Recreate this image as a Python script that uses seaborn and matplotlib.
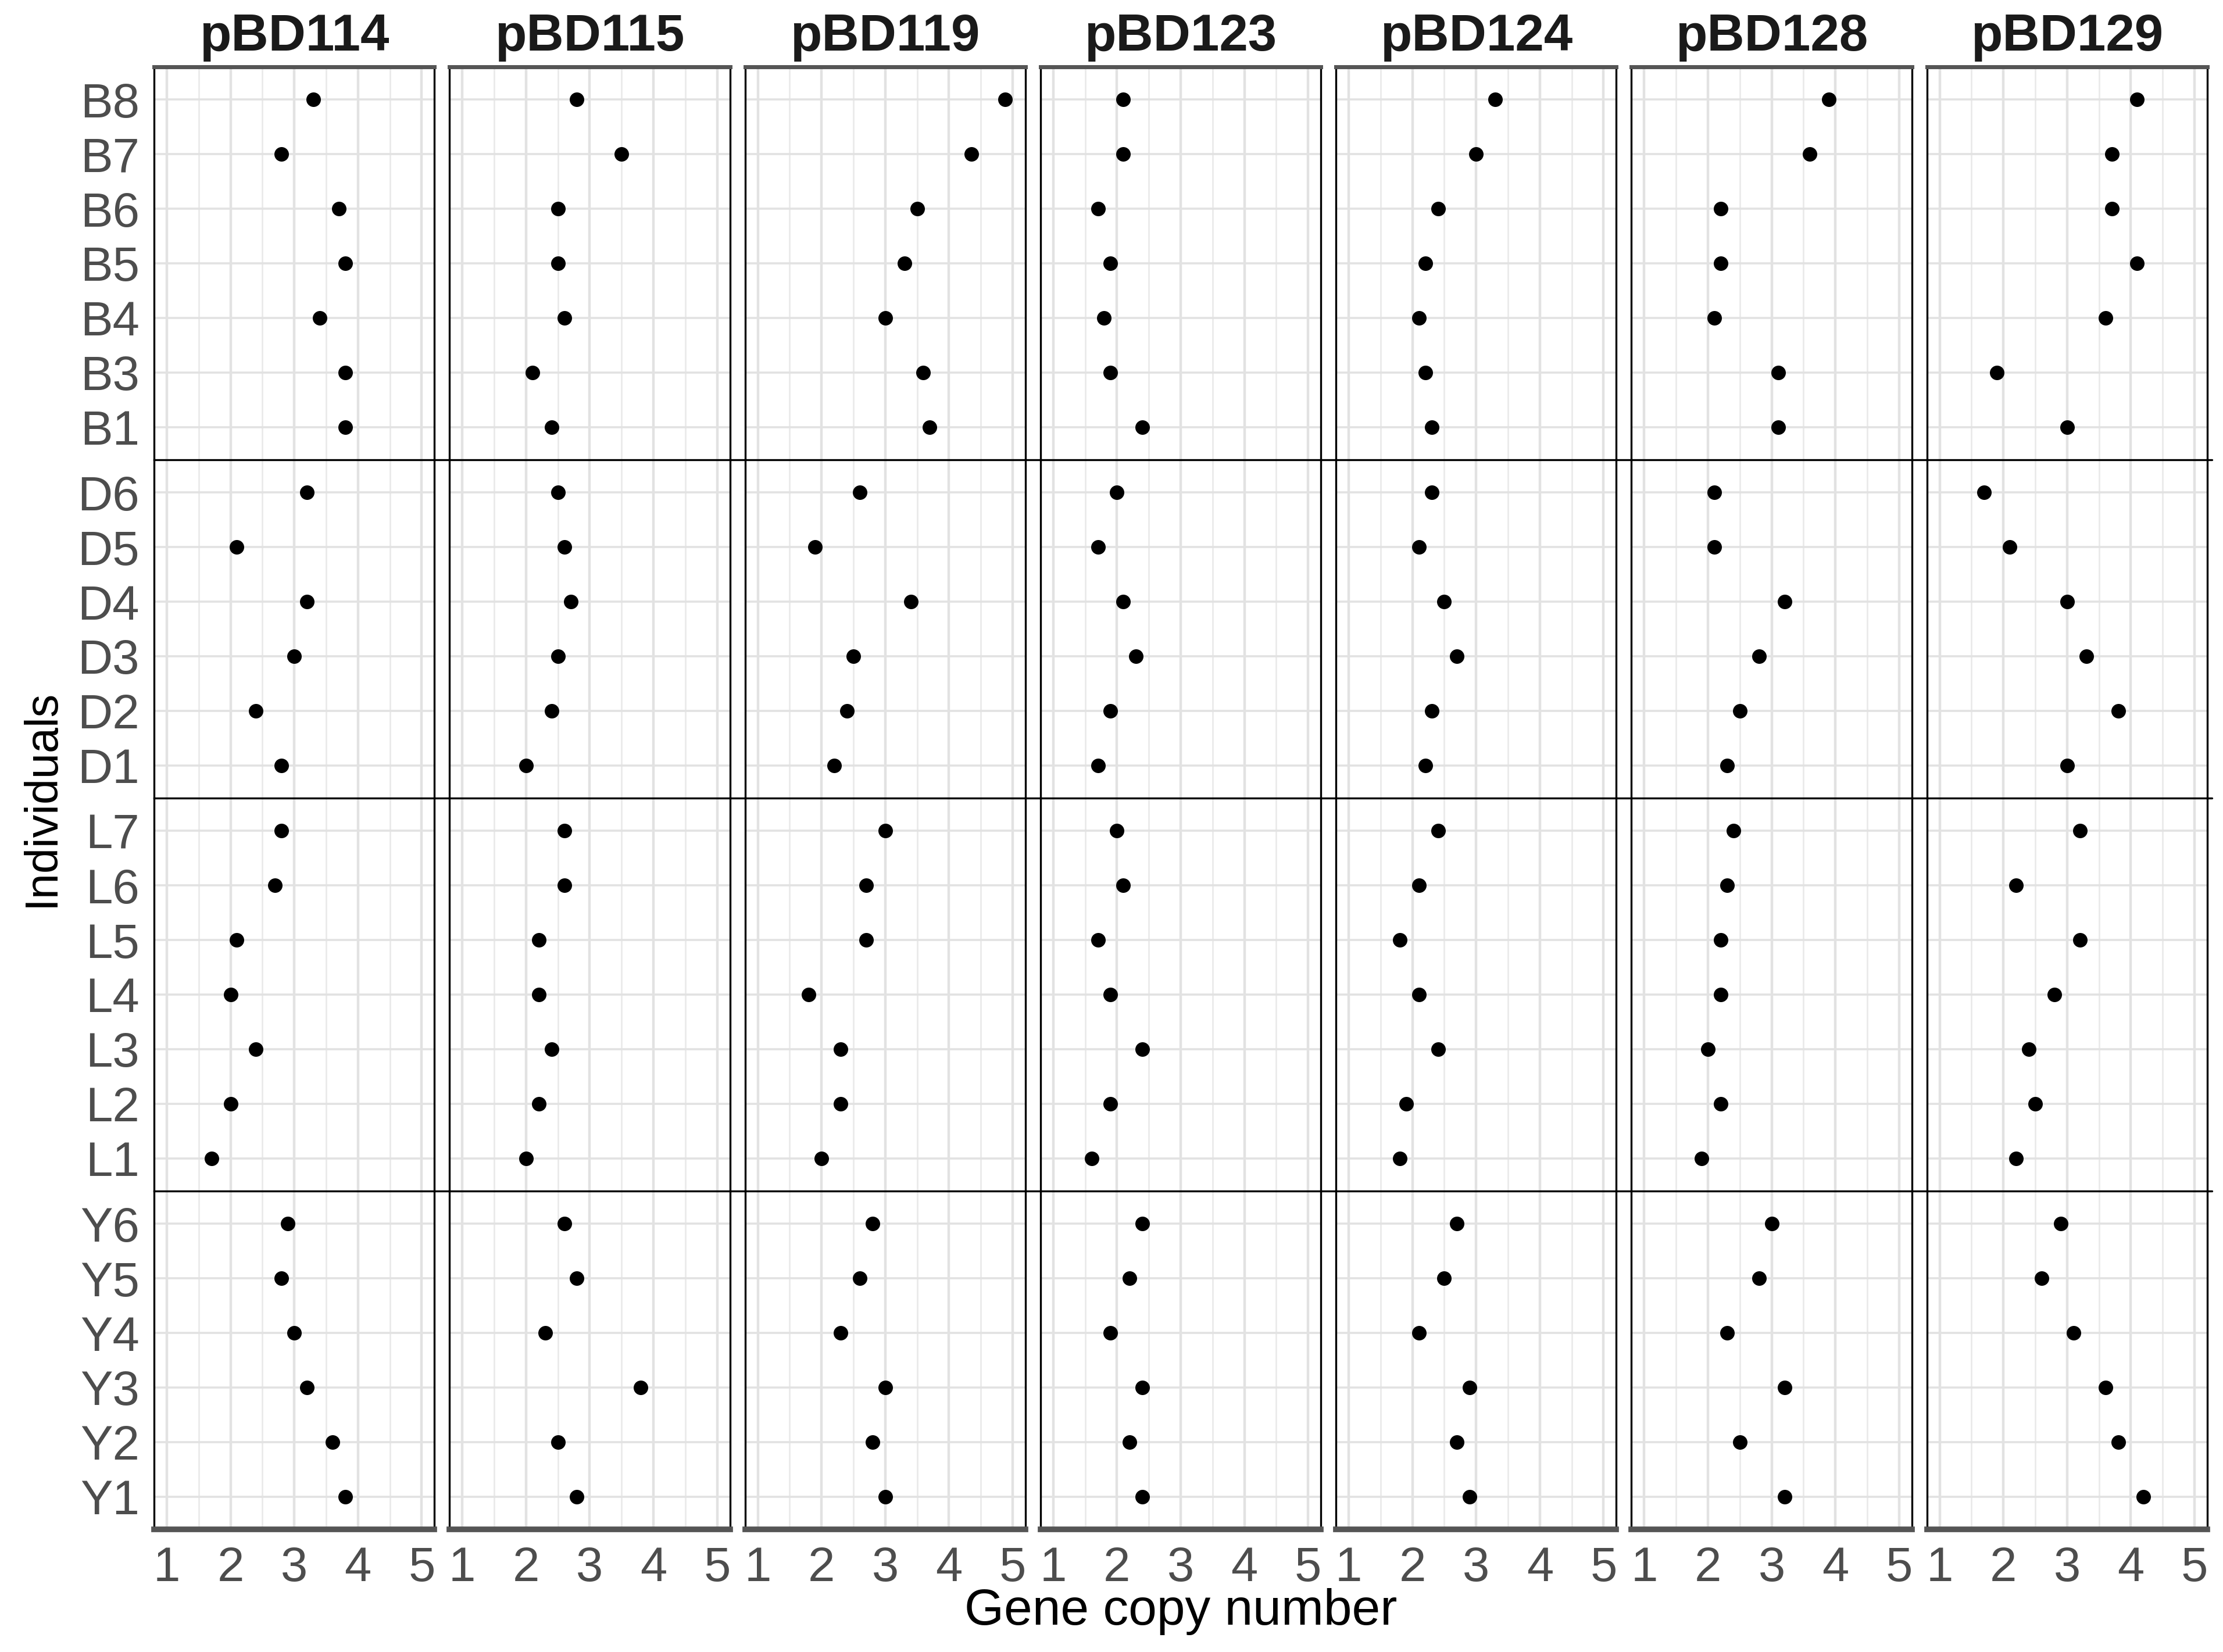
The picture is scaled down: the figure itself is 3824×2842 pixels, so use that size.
import matplotlib
matplotlib.use("Agg")
import matplotlib.pyplot as plt
import seaborn as sns
import pandas as pd
from matplotlib.ticker import MultipleLocator, FixedLocator
from matplotlib.lines import Line2D

# ---------------- data ----------------
genes = ["pBD114", "pBD115", "pBD119", "pBD123", "pBD124", "pBD128", "pBD129"]
groups = ["B", "D", "L", "Y"]
ind_B = ["B8", "B7", "B6", "B5", "B4", "B3", "B1"]
ind_D = ["D6", "D5", "D4", "D3", "D2", "D1"]
ind_L = ["L7", "L6", "L5", "L4", "L3", "L2", "L1"]
ind_Y = ["Y6", "Y5", "Y4", "Y3", "Y2", "Y1"]
x_ticks = [1, 2, 3, 4, 5]

# values in order: B8..B1, D6..D1, L7..L1, Y6..Y1
pBD114 = [3.3, 2.8, 3.7, 3.8, 3.4, 3.8, 3.8,
          3.2, 2.1, 3.2, 3.0, 2.4, 2.8,
          2.8, 2.7, 2.1, 2.0, 2.4, 2.0, 1.7,
          2.9, 2.8, 3.0, 3.2, 3.6, 3.8]
pBD115 = [2.8, 3.5, 2.5, 2.5, 2.6, 2.1, 2.4,
          2.5, 2.6, 2.7, 2.5, 2.4, 2.0,
          2.6, 2.6, 2.2, 2.2, 2.4, 2.2, 2.0,
          2.6, 2.8, 2.3, 3.8, 2.5, 2.8]
pBD119 = [4.88, 4.35, 3.5, 3.3, 3.0, 3.6, 3.7,
          2.6, 1.9, 3.4, 2.5, 2.4, 2.2,
          3.0, 2.7, 2.7, 1.8, 2.3, 2.3, 2.0,
          2.8, 2.6, 2.3, 3.0, 2.8, 3.0]
pBD123 = [2.1, 2.1, 1.7, 1.9, 1.8, 1.9, 2.4,
          2.0, 1.7, 2.1, 2.3, 1.9, 1.7,
          2.0, 2.1, 1.7, 1.9, 2.4, 1.9, 1.6,
          2.4, 2.2, 1.9, 2.4, 2.2, 2.4]
pBD124 = [3.3, 3.0, 2.4, 2.2, 2.1, 2.2, 2.3,
          2.3, 2.1, 2.5, 2.7, 2.3, 2.2,
          2.4, 2.1, 1.8, 2.1, 2.4, 1.9, 1.8,
          2.7, 2.5, 2.1, 2.9, 2.7, 2.9]
pBD128 = [3.9, 3.6, 2.2, 2.2, 2.1, 3.1, 3.1,
          2.1, 2.1, 3.2, 2.8, 2.5, 2.3,
          2.4, 2.3, 2.2, 2.2, 2.0, 2.2, 1.9,
          3.0, 2.8, 2.3, 3.2, 2.5, 3.2]
pBD129 = [4.1, 3.7, 3.7, 4.1, 3.6, 1.9, 3.0,
          1.7, 2.1, 3.0, 3.3, 3.8, 3.0,
          3.2, 2.2, 3.2, 2.8, 2.4, 2.5, 2.2,
          2.9, 2.6, 3.1, 3.6, 3.8, 4.2]

values = {"pBD114": pBD114, "pBD115": pBD115, "pBD119": pBD119, "pBD123": pBD123,
          "pBD124": pBD124, "pBD128": pBD128, "pBD129": pBD129}
inds = {"B": ind_B, "D": ind_D, "L": ind_L, "Y": ind_Y}
all_inds = ind_B + ind_D + ind_L + ind_Y
ind_group = [i[0] for i in all_inds]

rows = []
for g in genes:
    for ind, grp, v in zip(all_inds, ind_group, values[g]):
        rows.append({"gene": g, "group": grp, "ind": ind, "copy": v})
df = pd.DataFrame(rows)

# ---------------- style ----------------
sns.set_style("white")
plt.rcParams["font.family"] = ["Liberation Sans", "DejaVu Sans"]

W, H = 3824, 2842
DPI = 100
fig = plt.figure(figsize=(W / DPI, H / DPI), dpi=DPI)
gs = fig.add_gridspec(
    4, 7,
    left=265 / W, right=3797 / W, top=1 - 115 / H, bottom=1 - 2631 / H,
    height_ratios=[len(ind_B) + 0.2, len(ind_D) + 0.2, len(ind_L) + 0.2, len(ind_Y) + 0.2],
    wspace=0.054, hspace=0,
)

tick_color = "#4D4D4D"
grid_major = "#E2E2E2"
grid_minor = "#EAEAEA"
axes = [[None] * 7 for _ in range(4)]

for r, grp in enumerate(groups):
    for c, gene in enumerate(genes):
        ax = fig.add_subplot(gs[r, c])
        axes[r][c] = ax
        sub = df[(df["gene"] == gene) & (df["group"] == grp)]
        sns.stripplot(data=sub, x="copy", y="ind", order=inds[grp], jitter=False,
                      color="black", size=18, linewidth=0, orient="h", ax=ax, zorder=3)
        n = len(inds[grp])
        ax.set_xlim(0.8, 5.2)
        ax.set_ylim(n - 1 + 0.6, -0.6)
        ax.xaxis.set_major_locator(FixedLocator(x_ticks))
        ax.xaxis.set_minor_locator(MultipleLocator(0.5))
        ax.set_axisbelow(True)
        ax.grid(False)
        ax.xaxis.grid(True, which="major", color=grid_major, lw=3.2)
        ax.xaxis.grid(True, which="minor", color=grid_minor, lw=2.0)
        ax.yaxis.grid(True, which="major", color=grid_major, lw=2.6)
        ax.set_xlabel("")
        ax.set_ylabel("")
        ax.tick_params(axis="both", which="both", length=0, colors=tick_color,
                       labelsize=60)
        ax.tick_params(axis="y", pad=18)
        ax.tick_params(axis="x", pad=20)
        if c != 0:
            ax.tick_params(axis="y", labelleft=False)
        if r != 3:
            ax.tick_params(axis="x", labelbottom=False)
        else:
            ax.set_xticklabels([str(t) for t in x_ticks])
        for s in ["left", "right"]:
            ax.spines[s].set_color("black")
            ax.spines[s].set_linewidth(2.4)
        ax.spines["top"].set_visible(r == 0)
        ax.spines["bottom"].set_visible(r == 3)
        if r == 0:
            ax.spines["top"].set_color("#555555")
            ax.spines["top"].set_linewidth(5)
            ax.set_title(gene, fontsize=64, fontweight="bold", color="#1A1A1A", pad=20)
        if r == 3:
            ax.spines["bottom"].set_color("#555555")
            ax.spines["bottom"].set_linewidth(7)

# group separator lines spanning all columns
x_left = axes[0][0].get_position().x0
x_right = axes[0][6].get_position().x1
for r in range(3):
    y = axes[r][0].get_position().y0
    fig.add_artist(Line2D([x_left, x_right + 0.002], [y, y], transform=fig.transFigure,
                          color="black", lw=2.4, zorder=10))

# axis titles
fig.text((x_left + x_right) / 2, 1 - 2795 / H, "Gene copy number", ha="center",
         va="baseline", fontsize=63, color="black")
y_mid = (axes[0][0].get_position().y1 + axes[3][0].get_position().y0) / 2
fig.text(72 / W, y_mid, "Individuals", rotation=90, ha="center", va="center",
         fontsize=57, color="black")

fig.savefig("out.png", dpi=DPI, facecolor="white")
